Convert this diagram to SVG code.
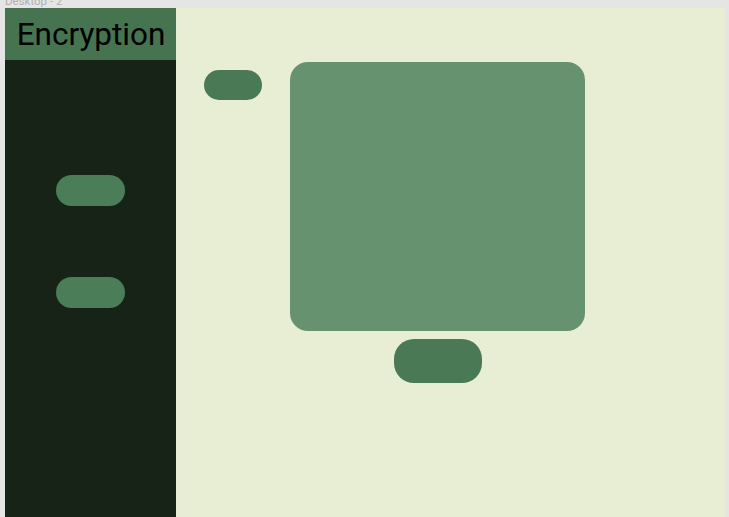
<svg xmlns="http://www.w3.org/2000/svg" width="729" height="517" viewBox="0 0 729 517">
<style>
.pill{fill:#4a7a55}
.lpill{fill:#4b7d58}
.lbl{font-family:"Roboto","Liberation Sans",sans-serif}
</style>
<rect x="0" y="0" width="729" height="517" fill="#e5e5e5"/>
<text class="lbl" x="5" y="4.5" font-size="11.5" fill="#b0b0b0">Desktop - 2</text>
<g id="frame">
<rect x="5" y="8" width="720" height="509" fill="#e8eed4"/>
</g>
<g id="sidebar">
<rect x="5" y="8" width="171" height="509" fill="#172316"/>
<rect x="5" y="8" width="171" height="52" fill="#467350"/>
<text class="lbl" x="91" y="45" font-size="31.5" fill="#000000" text-anchor="middle">Encryption</text>
</g>
<g id="side-button-1"><rect class="lpill" x="56" y="175" width="69" height="31" rx="15.5"/></g>
<g id="side-button-2"><rect class="lpill" x="56" y="277" width="69" height="31" rx="15.5"/></g>
<g id="top-button"><rect class="pill" x="204" y="70" width="58" height="30" rx="15"/></g>
<g id="panel"><rect x="290" y="62" width="295" height="269" rx="18" fill="#679270"/></g>
<g id="bottom-button"><rect class="pill" x="394" y="339" width="88" height="44" rx="20"/></g>
<g id="connectors"></g>
</svg>
